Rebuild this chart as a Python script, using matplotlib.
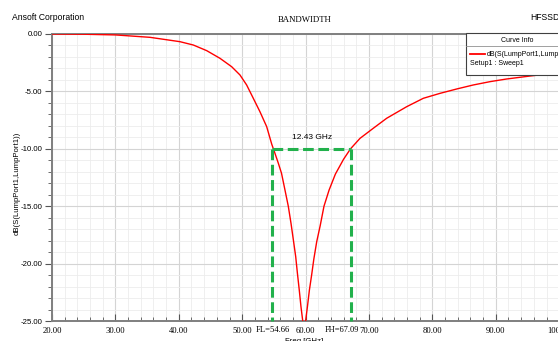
import matplotlib
matplotlib.use("Agg")
import matplotlib.pyplot as plt
from matplotlib.ticker import MultipleLocator, FormatStrFormatter
from matplotlib.patches import Rectangle
from matplotlib.lines import Line2D

# S11 curve (GHz, dB)
freq = [20, 25, 30, 35.46, 40.19, 42.29, 44.4, 46.5, 48.34, 49.65, 50.7, 51.75, 52.8,
        53.86, 54.66, 55.17, 55.7, 56.2, 56.75, 57.27, 57.7, 58.06, 58.44, 58.7, 59.0,
        59.27, 59.55, 59.75, 60.0, 60.3, 60.6, 60.95, 61.3, 61.75, 62.3, 62.9, 63.7,
        64.7, 66.0, 67.09, 68.58, 70.68, 72.79, 75.95, 78.57, 81.2, 83.83, 86.45,
        89.1, 91.7, 95.4, 99.1, 100]
s11 = [0.0, -0.02, -0.08, -0.29, -0.67, -0.96, -1.45, -2.12, -2.85, -3.57, -4.44, -5.6,
       -6.77, -8.07, -9.6, -10.4, -11.26, -12.13, -13.6, -15.0, -16.5, -17.9, -19.4,
       -20.8, -22.3, -23.75, -25.0, -25.3, -25.0, -23.7, -22.3, -21.0, -19.6, -18.1,
       -16.7, -15.0, -13.6, -12.2, -10.9, -10.0, -9.09, -8.21, -7.34, -6.33, -5.6,
       -5.17, -4.79, -4.44, -4.15, -3.92, -3.66, -3.42, -3.38]

fl = 54.66
fh = 67.09
level = -10.0
bw_label = "12.43 GHz"

W, H = 558, 341
fig = plt.figure(figsize=(W / 100, H / 100), dpi=100)
fig.patch.set_facecolor("white")

ax = fig.add_axes([52 / W, 1 - 321 / H, 507.2 / W, 287 / H])
ax.set_xlim(20, 100)
ax.set_ylim(-25, 0)

# grid
ax.xaxis.set_major_locator(MultipleLocator(10))
ax.xaxis.set_minor_locator(MultipleLocator(2))
ax.yaxis.set_major_locator(MultipleLocator(5))
ax.yaxis.set_minor_locator(MultipleLocator(1))
ax.grid(which="major", color="#d4d4d4", lw=0.8)
ax.grid(which="minor", color="#ececec", lw=0.6)
ax.set_axisbelow(True)

for s in ["left", "bottom", "top"]:
    ax.spines[s].set_color("#7f7f7f")
    ax.spines[s].set_linewidth(1.4)
ax.spines["right"].set_visible(False)

ax.xaxis.set_major_formatter(FormatStrFormatter("%.2f"))
ax.yaxis.set_major_formatter(FormatStrFormatter("%.2f"))
ax.tick_params(axis="x", which="both", direction="in", color="#555555", pad=4,
               labelsize=6.2, labelfontfamily="Liberation Serif")
ax.tick_params(axis="x", which="major", length=5)
ax.tick_params(axis="x", which="minor", length=3)
ax.tick_params(axis="y", which="both", direction="out", color="#555555", pad=2,
               labelsize=5.6, labelfontfamily="Liberation Sans")
ax.tick_params(axis="y", which="major", length=5)
ax.tick_params(axis="y", which="minor", length=3)

ax.set_ylabel("dB(S(LumpPort1,LumpPort1))", fontsize=5.6, family="Liberation Sans")
ax.yaxis.set_label_coords(-0.061, 0.48)

# curve
ax.plot(freq, s11, color="red", lw=1.0, zorder=3)

# bandwidth markers
green = "#22b14c"
dash = (0, (3.5, 1.5))
ax.plot([fl, fl], [level, -25], color=green, lw=2.2, ls=dash, zorder=4, clip_on=False)
ax.plot([fh, fh], [level, -25], color=green, lw=2.2, ls=dash, zorder=4, clip_on=False)
ax.plot([fl, fh], [level, level], color=green, lw=2.2, ls=dash, zorder=4)
ax.text((fl + fh) / 2 + 0.1, level + 0.95, bw_label, fontsize=6, ha="center", va="center",
        family="Liberation Sans")
ax.text(fl + 0.2, -25.45, "FL=%.2f" % fl, fontsize=6.2, ha="center", va="top",
        family="Liberation Serif")
ax.text(fh - 1.3, -25.45, "FH=%.2f" % fh, fontsize=6.0, ha="center", va="top",
        family="Liberation Serif")

ax.text(59.8, -26.45, "Freq [GHz]", fontsize=5.6, ha="center", va="top",
        family="Liberation Sans", clip_on=False)

# header texts
fig.text(12 / W, 1 - 17 / H, "Ansoft Corporation", fontsize=6.2, ha="left", va="center",
         family="Liberation Sans")
fig.text(305 / W, 1 - 20 / H, "BANDWIDTH", fontsize=6.3, ha="center", va="center",
         family="Liberation Serif")
fig.text(530 / W, 1 - 17 / H, "HFSSDesign1", fontsize=6.2, ha="left", va="center",
         family="Liberation Sans")

# curve info box
box = Rectangle((465.5 / W, 1 - 74.5 / H), 120 / W, 41.5 / H, transform=fig.transFigure,
                facecolor="white", edgecolor="#404040", lw=0.8, zorder=10)
fig.add_artist(box)
fig.add_artist(Line2D([465.5 / W, 1], [1 - 45.5 / H] * 2, transform=fig.transFigure,
                      color="#909090", lw=0.6, zorder=11))
fig.text(517 / W, 1 - 40 / H, "Curve Info", fontsize=5, ha="center", va="center",
         family="Liberation Sans", zorder=12)
fig.add_artist(Line2D([470 / W, 485 / W], [1 - 54 / H] * 2, transform=fig.transFigure,
                      color="red", lw=1.3, zorder=12))
fig.text(487 / W, 1 - 54 / H, "dB(S(LumpPort1,LumpPort1))", fontsize=5, ha="left",
         va="center", family="Liberation Sans", zorder=12)
fig.text(470.5 / W, 1 - 63.5 / H, "Setup1 : Sweep1", fontsize=5, ha="left", va="center",
         family="Liberation Sans", zorder=12)

fig.savefig("out.png", dpi=100)
